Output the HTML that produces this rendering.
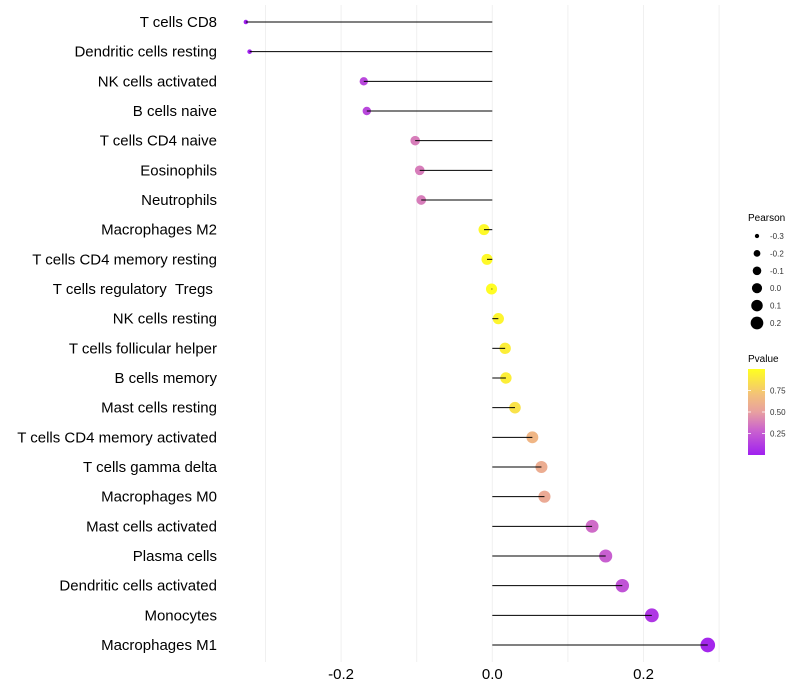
<!DOCTYPE html>
<html><head><meta charset="utf-8"><style>
body{margin:0;background:#fff;}
svg{display:block;font-family:"Liberation Sans",sans-serif;}
</style></head><body>
<svg id="chart" width="800" height="700" viewBox="0 0 800 700">
<defs>
<linearGradient id="pgrad" x1="0" y1="1" x2="0" y2="0">
<stop offset="0" stop-color="#a020f0"/>
<stop offset="0.3" stop-color="#cc66cc"/>
<stop offset="0.5" stop-color="#e8a0a0"/>
<stop offset="0.7" stop-color="#f3c07a"/>
<stop offset="1" stop-color="#ffff20"/>
</linearGradient>
</defs>
<g id="grid"></g>
<g id="marks"></g>
<g id="ylabels"></g>
<g id="xlabels"></g>
<g id="sizeLegend">
<text x="748" y="221" font-size="10" fill="#000">Pearson</text>
</g>
<g id="colLegend">
<text x="748" y="362" font-size="10" fill="#000">Pvalue</text>
<rect x="748" y="369" width="17" height="86" fill="url(#pgrad)"/>
</g>
</svg>
<script>
const categories=["T cells CD8","Dendritic cells resting","NK cells activated","B cells naive","T cells CD4 naive","Eosinophils","Neutrophils","Macrophages M2","T cells CD4 memory resting","T cells regulatory\u00a0\u00a0Tregs\u00a0","NK cells resting","T cells follicular helper","B cells memory","Mast cells resting","T cells CD4 memory activated","T cells gamma delta","Macrophages M0","Mast cells activated","Plasma cells","Dendritic cells activated","Monocytes","Macrophages M1"];
const pearson=[-0.326,-0.321,-0.170,-0.166,-0.102,-0.096,-0.094,-0.011,-0.007,-0.001,0.008,0.017,0.018,0.030,0.053,0.065,0.069,0.132,0.150,0.172,0.211,0.285];
const pvalues=[0.0,0.01,0.17,0.17,0.38,0.38,0.38,0.97,0.97,0.99,0.95,0.92,0.92,0.86,0.64,0.58,0.56,0.32,0.27,0.22,0.1,0.03];
const xTicks=[-0.2,0.0,0.2];
const xTickLabels=["-0.2","0.0","0.2"];
const gridVals=[-0.3,-0.2,-0.1,0,0.1,0.2,0.3];
const legendVals=[-0.3,-0.2,-0.1,0.0,0.1,0.2];
const legendLabels=["-0.3","-0.2","-0.1","0.0","0.1","0.2"];
const pTicks=[0.25,0.5,0.75];
const pTickLabels=["0.25","0.50","0.75"];
const NS="http://www.w3.org/2000/svg";
const x=v=>492.3+v*756;
const y=i=>22+i*(623/21);
const r=v=>Math.sqrt(Math.max(2.5,31+80*v));
const stops=[[0,[160,32,240]],[0.3,[204,102,204]],[0.5,[232,160,160]],[0.7,[243,192,122]],[1,[255,255,32]]];
function col(p){for(let k=1;k<stops.length;k++){if(p<=stops[k][0]){const a=stops[k-1],b=stops[k];const t=(p-a[0])/(b[0]-a[0]);const c=a[1].map((c0,j)=>Math.round(c0+(b[1][j]-c0)*t));return `rgb(${c})`;}}return "rgb(255,255,32)";}
function mk(tag,attrs,parent){const e=document.createElementNS(NS,tag);for(const k in attrs)e.setAttribute(k,attrs[k]);parent.appendChild(e);return e;}
const grid=document.getElementById('grid'),marks=document.getElementById('marks'),yl=document.getElementById('ylabels'),xl=document.getElementById('xlabels');
gridVals.forEach(v=>{const l=mk('line',{x1:x(v),x2:x(v),y1:5,y2:662,stroke:'#f0f0f0','stroke-width':1},grid);

});
categories.forEach((c,i)=>{
const cy=y(i);
const dot=mk('circle',{cx:x(pearson[i]),cy:cy,r:r(pearson[i]),fill:col(pvalues[i])},marks);


const ln=mk('line',{x1:x(0),x2:x(pearson[i]),y1:cy,y2:cy,stroke:'#000','stroke-width':1},marks);


const t=mk('text',{x:217,y:cy+5,'text-anchor':'end','font-size':15,fill:'#000'},yl);
t.textContent=c;


});
xTicks.forEach((v,i)=>{const t=mk('text',{x:x(v),y:679,'text-anchor':'middle','font-size':15,fill:'#000'},xl);
t.textContent=xTickLabels[i];

});
const sl=document.getElementById('sizeLegend');
legendVals.forEach((v,i)=>{const cy=236+i*17.4;
const c=mk('circle',{cx:757,cy:cy,r:r(v)-0.5,fill:'#000'},sl);


const t=mk('text',{x:770,y:cy+3,'font-size':8,fill:'#333'},sl);
t.textContent=legendLabels[i];

});
const cl=document.getElementById('colLegend');
pTicks.forEach((p,i)=>{const cy=455-p*86;
const l=mk('line',{x1:748,x2:751,y1:cy,y2:cy,stroke:'#fff','stroke-width':0.8},cl);


const l2=mk('line',{x1:762,x2:765,y1:cy,y2:cy,stroke:'#fff','stroke-width':0.8},cl);


const t=mk('text',{x:770,y:cy+3,'font-size':8,fill:'#333'},cl);
t.textContent=pTickLabels[i];

});
</script>
</body></html>
